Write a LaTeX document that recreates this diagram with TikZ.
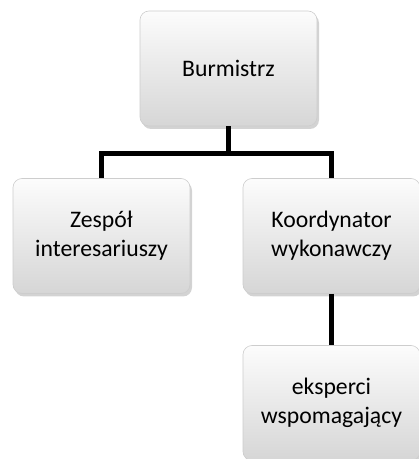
\documentclass[tikz,border=0pt]{standalone}
\definecolor{boxtop}{RGB}{252,252,252}
\definecolor{boxbottom}{RGB}{214,214,214}
\definecolor{boxedge}{RGB}{205,205,205}
\usepackage{fontspec}
\setmainfont{Carlito}
\usetikzlibrary{shadows}

\begin{document}
\begin{tikzpicture}[x=1pt, y=1pt,
        box/.style={rectangle, rounded corners=9pt, minimum width=177pt, minimum height=115pt,
            align=center, top color=boxtop, bottom color=boxbottom, draw=boxedge, line width=0.6pt,
            font=\fontsize{23.7}{29}\selectfont,
            drop shadow={shadow xshift=2pt, shadow yshift=-3pt, opacity=0.35}},
        link/.style={line width=5pt, line join=miter}]
            % Obszar rysunku
            \useasboundingbox (0,0) rectangle (419,459);

            % Stanowiska
            \node[box] (burm) at (228.5,390.5) {Burmistrz};
            \node[box] (zesp) at (101.5,223) {Zespół\\interesariuszy};
            \node[box] (koord) at (331.5,223) {Koordynator\\wykonawczy};
            \node[box] (eksp) at (331.5,56) {eksperci\\wspomagający};

            % Linie podległości
            \draw[link] (burm.south) -- ++(0,-27) coordinate (split) -| (zesp.north);
            \draw[link] (split) -| (koord.north);
            \draw[link] (koord.south) -- (eksp.north);
        \end{tikzpicture}
\end{document}
